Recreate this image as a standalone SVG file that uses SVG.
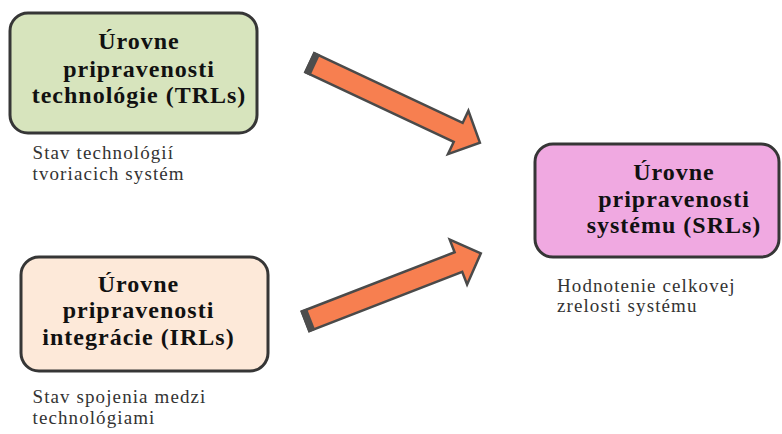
<svg xmlns="http://www.w3.org/2000/svg" width="782" height="434" viewBox="0 0 782 434">
<style>
.box{stroke:#363636;stroke-width:3}
.t{font-family:"Liberation Serif","Times New Roman",serif;font-weight:bold;font-size:24px;letter-spacing:1px;fill:#111;text-anchor:middle}
.s{font-family:"Liberation Serif","Times New Roman",serif;font-size:19px;letter-spacing:1.1px;fill:#333}
.arrow{fill:#f77f50;stroke:#4a4a4a;stroke-width:2.5;stroke-linejoin:miter}
.cap{fill:#4d4d4d}
</style>
<defs>
<g id="blockArrow">
<polygon class="arrow" points="0,-10.5 164,-10.5 164,-24 188,0 164,24 164,10.5 0,10.5"/>
<rect class="cap" x="-1" y="-11.5" width="7" height="23"/>
</g>
</defs>
<rect width="782" height="434" fill="#ffffff"/>
<g id="connectors">
<use href="#blockArrow" transform="translate(309.75,62.7) rotate(25.17)"/>
<use href="#blockArrow" transform="translate(305.5,321.3) rotate(-21.18)"/>
</g>
<g id="trl">
<rect class="box" x="10" y="13" width="247" height="120" rx="18" fill="#d7e4bd"/>
<text class="t" x="139" y="49">Úrovne</text>
<text class="t" x="139" y="77">pripravenosti</text>
<text class="t" x="139" y="103">technológie (TRLs)</text>
<text class="s" x="32.5" y="159">Stav technológií</text>
<text class="s" x="32.5" y="180">tvoriacich systém</text>
</g>
<g id="irl">
<rect class="box" x="21" y="257" width="247" height="114" rx="18" fill="#fde9d9"/>
<text class="t" x="138.5" y="292">Úrovne</text>
<text class="t" x="138.5" y="318">pripravenosti</text>
<text class="t" x="138.5" y="345">integrácie (IRLs)</text>
<text class="s" x="32.5" y="403">Stav spojenia medzi</text>
<text class="s" x="32.5" y="424">technológiami</text>
</g>
<g id="srl">
<rect class="box" x="535" y="144" width="244" height="113" rx="18" fill="#f0a9e1"/>
<text class="t" x="674" y="180">Úrovne</text>
<text class="t" x="674" y="207">pripravenosti</text>
<text class="t" x="674" y="233">systému (SRLs)</text>
<text class="s" x="557" y="292">Hodnotenie celkovej</text>
<text class="s" x="557" y="312">zrelosti systému</text>
</g>
</svg>
